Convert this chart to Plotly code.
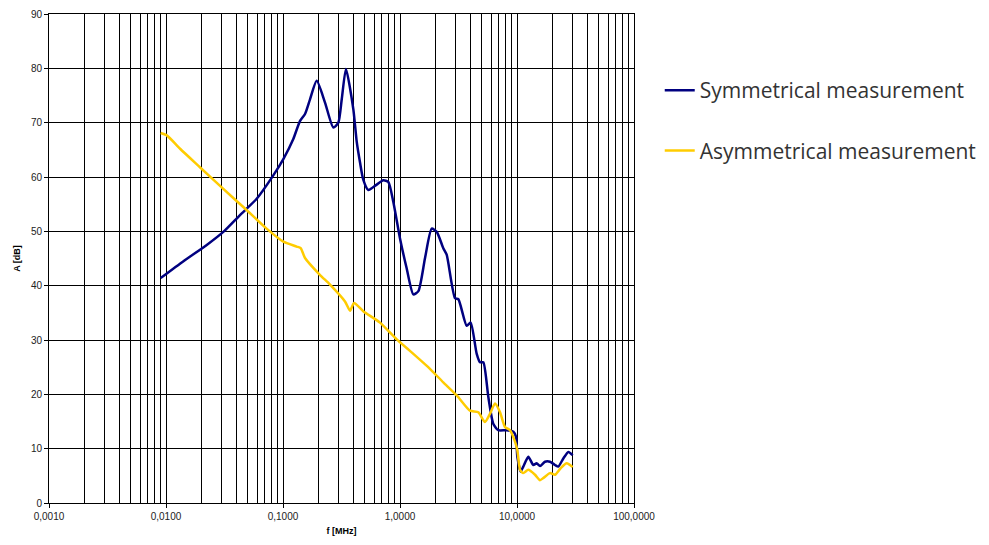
import plotly.graph_objects as go

# Frequencies in MHz and attenuation in dB
sym_f = [0.0090, 0.0141, 0.0223, 0.0309, 0.0429, 0.0596, 0.0826, 0.1007, 0.1225, 0.1396,
         0.1542, 0.1702, 0.1941, 0.2286, 0.2692, 0.2972, 0.3177, 0.3451, 0.3990, 0.4266,
         0.4550, 0.4853, 0.5358, 0.6324, 0.7194, 0.7943, 0.8770, 1.000, 1.140, 1.300,
         1.436, 1.637, 1.866, 2.061, 2.344, 2.506, 2.951, 3.155, 3.715, 4.018,
         4.519, 4.831, 5.152, 5.689, 6.266, 6.918, 8.166, 9.311, 9.795, 10.07,
         10.74, 11.32, 12.50, 13.77, 14.72, 15.74, 17.34, 19.14, 21.13, 22.54,
         24.89, 27.48, 29.92]
sym_a = [41.4, 44.5, 47.5, 49.9, 53.0, 56.0, 60.3, 63.3, 67.0, 70.3,
         71.6, 74.3, 77.7, 73.7, 69.1, 70.0, 74.3, 79.9, 72.5, 66.5,
         62.7, 59.5, 57.6, 58.6, 59.4, 59.1, 55.4, 48.7, 43.2, 38.4,
         39.0, 45.1, 50.5, 49.9, 46.9, 45.7, 37.7, 37.5, 32.6, 33.2,
         27.5, 25.9, 25.9, 19.5, 14.6, 13.4, 13.4, 13.1, 12.2, 8.5,
         5.8, 6.7, 8.5, 7.0, 7.3, 6.8, 7.6, 7.6, 7.0, 6.7,
         8.2, 9.4, 8.8]

asym_f = [0.0090, 0.0101, 0.0132, 0.0195, 0.0309, 0.0473, 0.0724, 0.1007, 0.1309, 0.1416,
          0.1542, 0.2065, 0.2523, 0.3388, 0.3741, 0.4046, 0.4853, 0.6745, 0.9376, 1.216,
          1.803, 2.344, 3.055, 3.963, 4.667, 5.321, 5.875, 6.486, 7.161, 7.889,
          8.710, 9.616, 10.07, 10.62, 11.32, 12.50, 14.26, 15.74, 16.79, 19.14,
          21.13, 23.60, 26.61, 29.92]
asym_a = [68.1, 67.7, 65.2, 61.8, 57.8, 54.2, 50.5, 48.1, 47.2, 46.9,
          45.1, 42.0, 40.2, 37.1, 35.4, 36.8, 35.3, 33.2, 30.1, 28.0,
          24.7, 22.2, 19.8, 17.0, 16.7, 14.9, 16.4, 18.3, 16.7, 14.0,
          13.4, 11.3, 9.7, 6.1, 5.5, 6.1, 5.2, 4.2, 4.6, 5.5,
          5.2, 6.4, 7.3, 6.6]

x_major = [0.001, 0.01, 0.1, 1, 10, 100]
x_major_text = ["0,0010", "0,0100", "0,1000", "1,0000", "10,0000", "100,0000"]
x_minor = [m * d for d in [0.001, 0.01, 0.1, 1, 10] for m in range(2, 10)]
y_ticks = [0, 10, 20, 30, 40, 50, 60, 70, 80, 90]

fig = go.Figure()
fig.add_trace(go.Scatter(x=sym_f, y=sym_a, mode="lines", name="Symmetrical measurement",
                         legendgroup="a", line=dict(color="#000080", width=2.5, shape="spline", smoothing=0.6)))
fig.add_trace(go.Scatter(x=asym_f, y=asym_a, mode="lines", name="Asymmetrical measurement",
                         legendgroup="b", line=dict(color="#FFCC00", width=2.5, shape="spline", smoothing=0.6)))

tick_font = dict(family="Liberation Sans, Arial, sans-serif", size=10, color="#222")
title_font = dict(family="Liberation Sans, Arial, sans-serif", size=9, color="#000")

# page body has an 8px margin, so the figure is sized to fit inside the window
fig.update_layout(
    width=973, height=529,
    margin=dict(l=41, r=347, t=6, b=34, autoexpand=False),
    paper_bgcolor="white", plot_bgcolor="white",
    showlegend=True,
    legend=dict(x=1.044, y=0.8855, xanchor="left", yanchor="top",
                font=dict(family="Open Sans, sans-serif", size=21, color="#333"),
                itemwidth=30, tracegroupgap=30, traceorder="grouped",
                bgcolor="rgba(0,0,0,0)"),
    xaxis=dict(type="log", range=[-3, 2], tickmode="array", tickvals=x_major, ticktext=x_major_text,
               tickfont=tick_font, ticks="outside", ticklen=4, tickcolor="black", automargin=False,
               ticklabeloverflow="allow",
               showgrid=True, gridcolor="black", gridwidth=1,
               minor=dict(tickmode="array", tickvals=x_minor, showgrid=True, gridcolor="black", gridwidth=1, ticks=""),
               showline=True, linecolor="black", linewidth=1, mirror=True, zeroline=False,
               title=dict(text="<b>f [MHz]</b>", font=title_font, standoff=6)),
    yaxis=dict(range=[0, 90], tickmode="array", tickvals=y_ticks, tickfont=tick_font,
               ticks="outside", ticklen=4, tickcolor="black", automargin=False,
               ticklabeloverflow="allow",
               showgrid=True, gridcolor="black", gridwidth=1,
               showline=True, linecolor="black", linewidth=1, mirror=True, zeroline=False,
               title=dict(text="<b>A [dB]</b>", font=title_font, standoff=8)),
)

fig.write_html("out.html")
